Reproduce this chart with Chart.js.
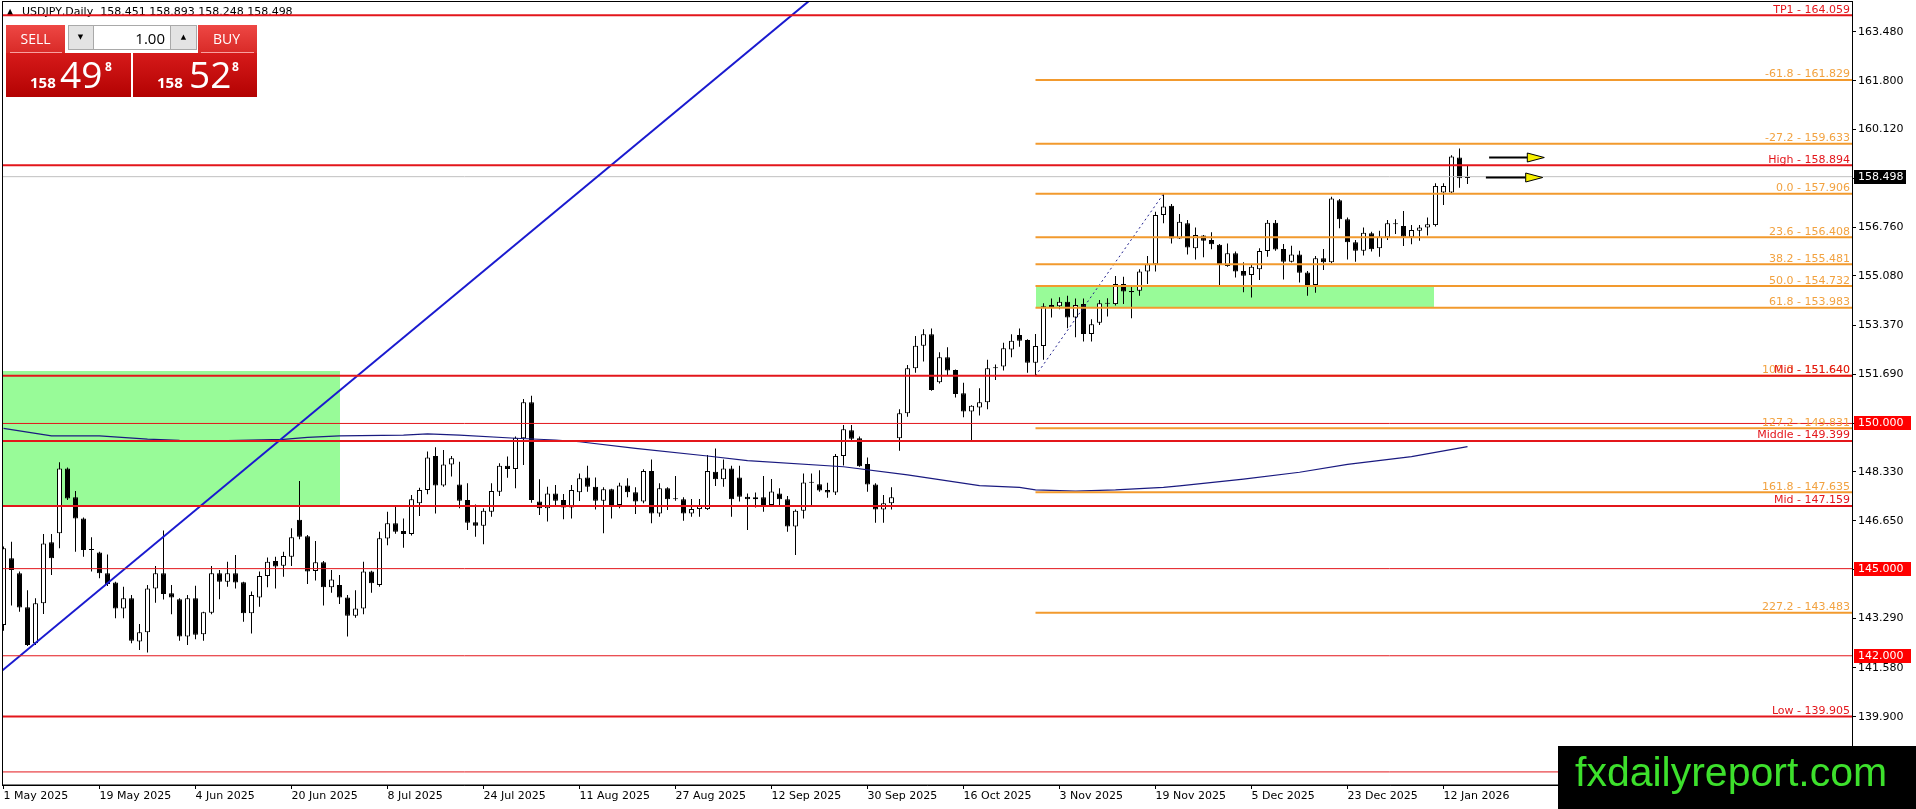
<!DOCTYPE html>
<html>
<head>
<meta charset="utf-8">
<title>USDJPY Daily</title>
<script src="https://cdn.jsdelivr.net/npm/chart.js@4.4.1/dist/chart.umd.min.js"></script>
<style>
  html, body { margin: 0; padding: 0; background: #fff; }
  #c { display: block; }
</style>
</head>
<body>
<canvas id="c" width="1916" height="809"></canvas>
<script>
// daily candles, 1 May 2025 .. 15 Jan 2026
const opens = [
  143.06,145.36,144.84,143.67,142.43,143.81,145.91,146.22,148.45,147.46,146.73,145.68,145.56,144.84,144.52,143.63,143.98,142.49,142.81,144.32,
  144.84,144.15,143.95,142.66,143.98,142.74,143.48,144.84,144.55,144.84,144.53,143.46,144.01,144.75,145.26,145.10,145.41,146.68,146.12,144.92,
  145.22,144.36,144.44,144.01,143.38,143.63,144.90,144.44,146.04,146.56,146.30,146.19,147.25,147.71,148.88,147.86,148.59,147.90,147.36,146.60,
  146.48,146.96,147.65,148.54,148.43,149.49,150.73,147.31,147.08,147.59,147.36,147.11,147.63,148.14,147.82,147.34,147.73,147.19,147.86,147.63,
  147.31,148.36,146.90,147.77,147.41,147.39,146.90,147.05,147.05,148.34,148.08,148.45,148.14,147.48,147.39,147.46,147.19,147.59,147.39,146.45,
  146.99,147.96,147.91,147.71,147.62,148.88,149.77,149.49,148.60,147.90,147.04,147.25,149.49,150.35,151.90,152.68,153.07,151.42,152.28,151.84,
  151.04,150.41,150.55,150.73,151.90,151.96,152.55,153.05,152.87,152.09,152.67,154.08,154.04,154.19,153.65,154.11,153.08,153.47,154.12,154.11,
  154.80,154.56,154.57,155.23,155.48,157.18,157.50,156.37,156.89,156.03,156.47,156.32,156.15,155.42,155.86,155.25,155.11,155.31,155.94,156.91,
  156.01,155.57,155.82,155.20,154.77,155.69,155.55,157.69,157.03,156.24,155.95,156.55,156.03,156.41,156.88,156.80,156.41,156.64,156.75,156.83,
  157.95,157.95,159.16,158.451
];
const highs = [
  145.76,145.93,144.90,144.26,143.98,146.19,146.19,148.66,148.48,147.67,146.76,146.08,145.58,145.49,144.55,144.38,144.09,143.09,144.44,145.09,
  146.31,144.44,143.98,144.09,144.41,143.52,145.09,144.95,145.24,145.47,144.55,144.21,144.90,145.38,145.41,145.58,146.39,148.02,146.16,145.95,
  145.26,144.95,144.78,144.09,144.26,145.24,144.93,146.27,146.96,147.13,146.73,147.54,147.79,149.03,149.18,149.09,148.88,148.68,147.94,147.21,
  147.08,147.94,148.63,148.86,149.55,150.84,150.95,148.08,147.82,147.88,147.57,147.88,148.28,148.54,148.14,147.80,147.75,147.96,148.11,147.80,
  148.42,148.76,147.94,147.80,148.19,147.46,147.40,147.40,148.91,149.14,148.76,148.54,148.54,147.59,147.62,148.19,148.09,147.77,147.50,147.04,
  148.28,148.28,148.39,147.96,148.95,149.95,149.95,149.55,148.83,147.94,147.54,147.80,150.49,152.01,153.01,153.24,153.27,152.45,152.62,151.86,
  151.40,150.63,151.21,152.19,152.03,152.78,153.07,153.27,152.90,153.08,154.14,154.30,154.35,154.40,154.30,154.30,153.59,154.25,154.31,155.08,
  155.05,154.71,155.31,155.77,157.29,157.906,157.56,157.21,157.01,156.75,156.49,156.58,156.18,156.20,155.92,155.55,155.46,156.03,157.01,157.01,
  156.18,156.12,155.95,155.25,155.77,156.01,157.81,157.73,157.09,156.32,156.75,156.60,156.64,157.01,157.03,157.32,156.83,156.83,157.09,158.27,
  158.27,159.24,159.47,158.893
];
const lows = [
  142.86,143.73,143.52,142.34,142.37,143.44,144.78,145.70,147.36,145.58,145.41,144.90,144.67,144.40,143.29,143.29,142.43,142.20,142.11,143.83,
  143.94,143.43,142.52,142.37,142.57,142.52,143.43,143.95,144.38,144.32,143.17,142.77,143.69,144.36,144.32,144.72,145.09,146.01,144.47,144.59,
  143.73,144.17,143.78,142.66,143.31,143.43,144.17,144.38,145.81,146.20,145.72,146.14,146.81,147.56,146.90,147.82,148.17,147.08,146.33,146.10,
  145.84,146.79,147.50,148.13,147.77,148.57,147.27,146.85,146.62,147.16,146.70,146.73,147.33,147.65,147.04,146.22,146.73,147.08,147.46,146.88,
  147.25,146.56,146.79,147.02,147.34,146.65,146.79,146.79,147.02,147.85,147.82,146.79,147.31,146.33,147.11,146.96,147.13,147.19,146.27,145.47,
  146.73,147.19,147.65,147.44,147.54,148.55,149.43,148.51,147.65,146.58,146.58,147.04,149.06,150.23,151.75,152.13,151.13,151.38,151.67,150.89,
  150.21,149.41,150.27,150.49,151.50,151.82,152.28,152.64,151.75,151.64,152.19,153.65,153.93,153.28,152.97,152.82,152.82,153.39,153.68,154.06,
  154.11,153.62,154.40,154.80,155.23,156.89,156.20,156.35,155.82,155.65,155.72,156.00,154.71,155.40,155.03,154.52,154.34,154.94,155.74,155.95,
  154.96,155.54,154.85,154.40,154.50,155.28,155.51,156.72,155.65,155.57,155.78,155.92,155.74,156.32,156.52,156.11,156.17,156.29,156.47,156.78,
  157.52,157.92,158.12,158.248
];
const closes = [
  145.70,144.95,143.66,142.37,143.81,145.87,145.36,148.45,147.42,146.73,145.64,145.64,144.84,144.47,143.63,143.98,142.52,142.81,144.32,144.84,
  144.13,144.01,142.66,143.98,142.72,143.50,144.84,144.55,144.84,144.52,143.46,144.09,144.75,145.24,145.07,145.44,146.08,146.10,144.90,145.22,
  144.36,144.63,144.01,143.38,143.63,144.90,144.50,146.05,146.56,146.27,146.19,147.39,147.71,148.83,147.86,148.59,148.80,147.34,146.58,146.48,
  146.99,147.67,148.54,148.43,149.51,150.73,147.36,147.08,147.59,147.34,147.11,147.71,148.11,147.82,147.34,147.73,147.19,147.86,147.63,147.31,
  148.36,146.90,147.77,147.39,147.39,146.90,147.05,147.19,148.36,148.08,148.45,147.39,147.48,147.39,147.46,147.19,147.66,147.39,146.45,146.99,
  147.97,147.98,147.69,147.62,148.88,149.80,149.47,148.53,147.90,147.04,147.25,147.46,150.35,151.90,152.68,153.07,151.15,152.28,151.82,151.01,
  150.41,150.61,150.73,151.90,151.92,152.59,152.85,152.85,152.09,152.67,154.04,154.00,154.19,153.65,154.08,153.08,153.42,154.14,154.15,154.80,
  154.54,154.52,155.23,155.48,157.18,157.47,156.37,156.95,156.06,156.49,156.29,156.17,155.46,155.86,155.23,155.09,155.40,155.94,156.91,155.99,
  155.57,155.82,155.19,154.77,155.69,155.55,157.75,157.03,156.24,155.95,156.57,156.00,156.43,156.89,156.86,156.43,156.66,156.75,156.86,158.18,
  158.18,159.19,158.44,158.498
];

// time axis labels, one every 12 bars
const dateLabels = ['1 May 2025','19 May 2025','4 Jun 2025','20 Jun 2025','8 Jul 2025','24 Jul 2025','11 Aug 2025','27 Aug 2025',
  '12 Sep 2025','30 Sep 2025','16 Oct 2025','3 Nov 2025','19 Nov 2025','5 Dec 2025','23 Dec 2025','12 Jan 2026'];
const dateBars = [0,12,24,36,48,60,72,84,96,108,120,132,144,156,168,180];

// price axis labels
const priceTicks = [163.480,161.800,160.120,158.440,156.760,155.080,153.370,151.690,150.010,148.330,146.650,144.970,143.290,141.580,139.900,138.220];

// moving average, read at these bars
const maBars = [0,6,12,18,22,28,35,38,42,50,53,57,64,69,72,79,88,93,105,113,122,127,129,134,139,145,147,155,162,168,176,183];
const maVals = [149.83,149.57,149.57,149.46,149.42,149.41,149.45,149.52,149.57,149.60,149.64,149.60,149.49,149.43,149.37,149.14,148.88,148.72,
  148.51,148.23,147.86,147.80,147.71,147.67,147.71,147.80,147.85,148.08,148.32,148.59,148.86,149.20];

// named levels (red, thick)
const levelNames = ['TP1','High','Mid','Middle','Mid','Low'];
const levelPrices = [164.059,158.894,151.640,149.399,147.159,139.905];
// round numbers (red, thin, boxed on the axis)
const roundPrices = [150.000,145.000,142.000,138.000];

// fibonacci from the 129 low to the 145 high
const fibPct = ['-61.8','-27.2','0.0','23.6','38.2','50.0','61.8','100.0','127.2','161.8','227.2'];
const fibPrices = [161.829,159.633,157.906,156.408,155.481,154.732,153.983,151.640,149.831,147.635,143.483];
const fibFromBar = 129;
const fibSwingBars = [129,145];
const fibSwingPrices = [151.640,157.906];

// blue trend line
const trendBars = [-1,101];
const trendPrices = [141.30,164.62];

// green zones
const zoneBar0 = [-2,129];
const zoneBar1 = [42,178.8];
const zoneLow = [147.159,153.983];
const zoneHigh = [151.807,154.732];

// arrows to the right of the last bar
const arrowBar0 = [185.7,185.3];
const arrowBar1 = [192.6,192.4];
const arrowPrices = [159.18,158.49];

const lastPrice = 158.498;
const title = 'USDJPY,Daily  158.451 158.893 158.248 158.498';
const sellBig = ['158','49','8'];
const buyBig = ['158','52','8'];

const X_MIN = -0.1875, X_MAX = 231.0625;
const Y_MIN = 137.550, Y_MAX = 164.513;

const RED = '#e3161b';
const ORANGE = '#f29a2e';
const ORANGE_TXT = '#f2a240';
const FONT = '11px "DejaVu Sans"';

const wicks = opens.map((o, i) => ({ x: i, y: [lows[i], highs[i]] }));
const bodies = opens.map((o, i) => ({ x: i, y: [o, closes[i]] }));
const bodyFill = opens.map((o, i) => closes[i] >= o ? '#ffffff' : '#000000');

function hline(y, x0, color, width, order) {
  return { type: 'line', data: [{ x: x0, y: y }, { x: X_MAX, y: y }], borderColor: color,
    borderWidth: width, pointRadius: 0, fill: false, order: order };
}

const datasets = [
  { type: 'bar', data: wicks, backgroundColor: '#000', borderWidth: 0, barThickness: 1,
    grouped: false, inflateAmount: 0, order: 21 },
  { type: 'bar', data: bodies, backgroundColor: bodyFill, borderColor: '#000', borderWidth: 1,
    borderSkipped: false, barThickness: 5, minBarLength: 1, grouped: false, inflateAmount: 0, order: 20 },
  hline(lastPrice, X_MIN, '#c0c0c0', 1, 9),
  { type: 'line', data: maBars.map((b, i) => ({ x: b, y: maVals[i] })), borderColor: '#1a1a80',
    borderWidth: 1.2, pointRadius: 0, fill: false, tension: 0, order: 5 },
  { type: 'line', data: fibSwingBars.map((b, i) => ({ x: b, y: fibSwingPrices[i] })), borderColor: '#1e1e8c',
    borderWidth: 1, borderDash: [2, 3], pointRadius: 0, fill: false, order: 4 },
  { type: 'line', data: trendBars.map((b, i) => ({ x: b, y: trendPrices[i] })), borderColor: '#1a1acf',
    borderWidth: 2, pointRadius: 0, fill: false, order: 3 }
];
fibPrices.forEach(p => datasets.push(hline(p, fibFromBar, ORANGE, 2, 2)));
roundPrices.forEach(p => datasets.push(hline(p, X_MIN, RED, 1, 1)));
levelPrices.forEach(p => datasets.push(hline(p, X_MIN, RED, 2, 1)));

function grad(ctx, y0, y1, c0, c1) {
  const g = ctx.createLinearGradient(0, y0, 0, y1);
  g.addColorStop(0, c0);
  g.addColorStop(1, c1);
  return g;
}

// keep the plot area fixed: no room reserved for edge labels
function noPad(s) {
  s.paddingTop = 0;
  s.paddingBottom = 0;
  s.paddingLeft = 0;
  s.paddingRight = 0;
}

const decor = {
  id: 'decor',
  beforeDatasetsDraw(chart) {
    const { ctx, chartArea: a, scales: { x, y } } = chart;
    ctx.save();
    ctx.beginPath();
    ctx.rect(a.left, a.top, a.right - a.left, a.bottom - a.top);
    ctx.clip();
    ctx.fillStyle = '#98fb98';
    zoneBar0.forEach((b, i) => {
      const x0 = Math.round(x.getPixelForValue(b)), x1 = Math.round(x.getPixelForValue(zoneBar1[i]));
      const y0 = Math.round(y.getPixelForValue(zoneHigh[i])), y1 = Math.round(y.getPixelForValue(zoneLow[i]));
      ctx.fillRect(x0, y0, x1 - x0, y1 - y0);
    });
    ctx.restore();
    // chart title
    ctx.save();
    ctx.fillStyle = '#000';
    ctx.font = '8px "DejaVu Sans"';
    ctx.textBaseline = 'middle';
    ctx.fillText('\u25B2', 7, 12);
    ctx.font = FONT;
    ctx.fillText(title, 22, 12);
    ctx.restore();
  },
  afterDatasetsDraw(chart) {
    const { ctx, chartArea: a, scales: { x, y } } = chart;
    ctx.save();
    ctx.font = FONT;
    ctx.textAlign = 'right';
    ctx.textBaseline = 'alphabetic';
    const xr = a.right - 2;
    ctx.fillStyle = ORANGE_TXT;
    fibPrices.forEach((p, i) => ctx.fillText(fibPct[i] + ' - ' + p.toFixed(3), xr, y.getPixelForValue(p) - 2.5));
    ctx.fillStyle = RED;
    levelPrices.forEach((p, i) => ctx.fillText(levelNames[i] + ' - ' + p.toFixed(3), xr, y.getPixelForValue(p) - 2.5));

    // arrows
    arrowPrices.forEach((p, i) => {
      const yy = Math.round(y.getPixelForValue(p)) + 0.5;
      const x0 = x.getPixelForValue(arrowBar0[i]), x1 = x.getPixelForValue(arrowBar1[i]);
      const xm = x1 - 17;
      ctx.strokeStyle = '#000';
      ctx.lineWidth = 2;
      ctx.beginPath();
      ctx.moveTo(x0, yy);
      ctx.lineTo(xm, yy);
      ctx.stroke();
      ctx.lineWidth = 1;
      ctx.fillStyle = '#f7f000';
      ctx.beginPath();
      ctx.moveTo(xm, yy - 4.5);
      ctx.lineTo(x1, yy);
      ctx.lineTo(xm, yy + 4.5);
      ctx.closePath();
      ctx.fill();
      ctx.stroke();
    });

    // frame
    ctx.strokeStyle = '#000';
    ctx.lineWidth = 1;
    ctx.strokeRect(a.left + 0.5, a.top - 0.5, a.right - a.left, a.bottom - a.top + 0.5);
    ctx.restore();
  },
  afterDraw(chart) {
    const { ctx, chartArea: a, scales: { y } } = chart;
    ctx.save();
    ctx.font = FONT;
    ctx.textBaseline = 'middle';
    ctx.textAlign = 'left';
    // boxes on the price axis
    roundPrices.forEach(p => {
      const yy = Math.round(y.getPixelForValue(p));
      ctx.fillStyle = '#ff0000';
      ctx.fillRect(a.right + 2, yy - 7, 57, 14);
      ctx.fillStyle = '#fff';
      ctx.fillText(p.toFixed(3), a.right + 6, yy + 0.5);
    });
    const yl = Math.round(y.getPixelForValue(lastPrice));
    ctx.fillStyle = '#000';
    ctx.fillRect(a.right + 2, yl - 7, 52, 14);
    ctx.fillStyle = '#fff';
    ctx.fillText(lastPrice.toFixed(3), a.right + 6, yl + 0.5);

    // one-click trading panel
    ctx.fillStyle = grad(ctx, 25, 52, '#ee4744', '#d92b28');
    ctx.fillRect(6, 25, 59, 28);
    ctx.fillRect(198, 25, 59, 28);
    ctx.fillStyle = grad(ctx, 53, 97, '#d61a1a', '#b30202');
    ctx.fillRect(6, 53, 125, 44);
    ctx.fillRect(133, 53, 124, 44);
    ctx.strokeStyle = 'rgba(255,190,190,0.8)';
    ctx.beginPath();
    ctx.moveTo(10, 52.5); ctx.lineTo(62, 52.5);
    ctx.moveTo(201, 52.5); ctx.lineTo(254, 52.5);
    ctx.stroke();
    ctx.fillStyle = '#fff';
    ctx.fillRect(68, 25, 129, 25);
    ctx.fillStyle = '#e3e3e3';
    ctx.fillRect(68, 25, 25, 25);
    ctx.fillRect(171, 25, 26, 25);
    ctx.strokeStyle = '#a9a9a9';
    ctx.strokeRect(68.5, 25.5, 128, 24);
    ctx.beginPath();
    ctx.moveTo(93.5, 25); ctx.lineTo(93.5, 50);
    ctx.moveTo(170.5, 25); ctx.lineTo(170.5, 50);
    ctx.stroke();
    ctx.fillStyle = '#000';
    ctx.font = '7px "DejaVu Sans"';
    ctx.textAlign = 'center';
    ctx.fillText('\u25BC', 80.5, 37.5);
    ctx.fillText('\u25B2', 183.5, 37.5);
    ctx.textBaseline = 'alphabetic';
    ctx.font = '15px "Open Sans"';
    ctx.textAlign = 'right';
    ctx.fillText('1.00', 165, 44);
    ctx.textAlign = 'center';
    ctx.fillStyle = '#fff';
    ctx.font = '14px "Open Sans"';
    ctx.fillText('SELL', 35.5, 44);
    ctx.fillText('BUY', 226.5, 44);
    ctx.textAlign = 'left';
    [[sellBig, 30, 60, 105], [buyBig, 157, 189, 232]].forEach(([t, x0, x1, x2]) => {
      ctx.font = 'bold 15px "Open Sans"';
      ctx.fillText(t[0], x0, 88);
      ctx.font = '37px "Open Sans"';
      ctx.fillText(t[1], x1, 87.5);
      ctx.font = 'bold 12px "Open Sans"';
      ctx.fillText(t[2], x2, 71);
    });

    // watermark
    ctx.fillStyle = '#000';
    ctx.fillRect(1558, 746, 358, 63);
    ctx.fillStyle = '#3de02c';
    ctx.font = '41px "Liberation Sans"';
    ctx.fillText('fxdailyreport.com', 1575, 786);
    ctx.restore();
  }
};

new Chart(document.getElementById('c'), {
  type: 'bar',
  data: { datasets },
  options: {
    responsive: false,
    animation: false,
    events: [],
    layout: { autoPadding: false, padding: { left: 2, top: 2, right: 0, bottom: 0 } },
    plugins: { legend: { display: false }, tooltip: { enabled: false } },
    scales: {
      x: {
        type: 'linear', min: X_MIN, max: X_MAX, offset: false,
        grid: { offset: false, drawOnChartArea: false, drawTicks: true, tickLength: 4, color: '#000' },
        border: { display: true, color: '#000' },
        afterBuildTicks: s => { s.ticks = dateBars.map(v => ({ value: v })); },
        afterFit: s => { s.height = 24; noPad(s); },
        ticks: {
          autoSkip: false, maxRotation: 0, align: 'start', padding: 1, color: '#000',
          font: { family: 'DejaVu Sans', size: 11 },
          callback: (v, i) => dateLabels[i]
        }
      },
      y: {
        type: 'linear', position: 'right', min: Y_MIN, max: Y_MAX,
        grid: { drawOnChartArea: false, drawTicks: true, tickLength: 4, color: '#000' },
        border: { display: true, color: '#000' },
        afterBuildTicks: s => { s.ticks = priceTicks.map(v => ({ value: v })); },
        afterFit: s => { s.width = 64; noPad(s); },
        ticks: {
          autoSkip: false, padding: 2, color: '#000',
          font: { family: 'DejaVu Sans', size: 11 },
          callback: v => Number(v).toFixed(3)
        }
      }
    }
  },
  plugins: [decor]
});
</script>
</body>
</html>
